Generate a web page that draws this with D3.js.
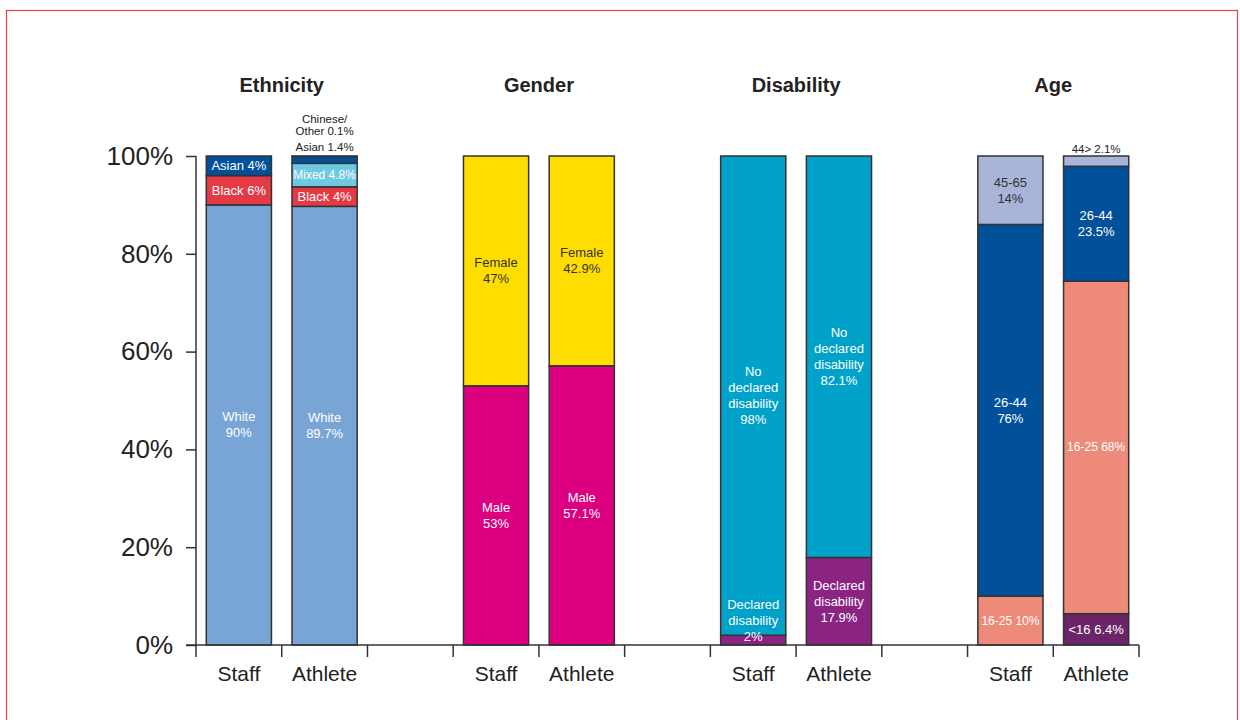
<!DOCTYPE html>
<html><head><meta charset="utf-8">
<script src="https://cdn.jsdelivr.net/npm/d3@7"></script>
<style>
html,body{margin:0;padding:0;background:#fff;}
svg{display:block;font-family:"Liberation Sans",Arial,Helvetica,sans-serif;}
</style></head>
<body><svg id="chart" width="1240" height="720"></svg>
<script>
// ---------- data ----------
const groups = ["Ethnicity", "Gender", "Disability", "Age"];
const barNames = ["Staff", "Athlete"];
const yTicks = [0, 20, 40, 60, 80, 100];

const ethnicityStaffCats = ["White", "Black", "Asian"];
const ethnicityStaffVals = [90, 6, 4];
const ethnicityAthleteCats = ["White", "Black", "Mixed", "Asian", "Chinese/Other"];
const ethnicityAthleteVals = [89.7, 4, 4.8, 1.4, 0.1];

const genderCats = ["Male", "Female"];
const genderStaffVals = [53, 47];
const genderAthleteVals = [57.1, 42.9];

const disabilityCats = ["Declared disability", "No declared disability"];
const disabilityStaffVals = [2, 98];
const disabilityAthleteVals = [17.9, 82.1];

const ageStaffCats = ["16-25", "26-44", "45-65"];
const ageStaffVals = [10, 76, 14];
const ageAthleteCats = ["<16", "16-25", "26-44", "44>"];
const ageAthleteVals = [6.4, 68, 23.5, 2.1];

// segment labels (text lines) per bar, same order as categories
const ethnicityStaffLabels = [["White", "90%"], ["Black 6%"], ["Asian 4%"]];
const ethnicityAthleteLabels = [["White", "89.7%"], ["Black 4%"], ["Mixed 4.8%"], ["Asian 1.4%"], ["Chinese/", "Other 0.1%"]];
const genderStaffLabels = [["Male", "53%"], ["Female", "47%"]];
const genderAthleteLabels = [["Male", "57.1%"], ["Female", "42.9%"]];
const disabilityStaffLabels = [["Declared", "disability", "2%"], ["No", "declared", "disability", "98%"]];
const disabilityAthleteLabels = [["Declared", "disability", "17.9%"], ["No", "declared", "disability", "82.1%"]];
const ageStaffLabels = [["16-25 10%"], ["26-44", "76%"], ["45-65", "14%"]];
const ageAthleteLabels = [["<16 6.4%"], ["16-25 68%"], ["26-44", "23.5%"], ["44> 2.1%"]];

// ---------- styles ----------
const colorMap = {
  "White": "#78a4d6", "Black": "#e43a46", "Asian": "#00519a", "Mixed": "#6fc9e1",
  "Chinese/Other": "#e8c46a", "Male": "#dc0080", "Female": "#ffdd00",
  "Declared disability": "#8b2383", "No declared disability": "#00a2c9",
  "<16": "#6b2468", "16-25": "#ee8a7a", "26-44": "#00519a", "45-65": "#a9b4d9", "44>": "#a9b4d9"
};
const darkText = new Set(["Female", "45-65", "44>"]);

const bars = [
  {slot: 0, cats: ethnicityStaffCats, vals: ethnicityStaffVals, labels: ethnicityStaffLabels},
  {slot: 1, cats: ethnicityAthleteCats, vals: ethnicityAthleteVals, labels: ethnicityAthleteLabels,
   outside: {"Asian": 147, "Chinese/Other": 119}},
  {slot: 3, cats: genderCats, vals: genderStaffVals, labels: genderStaffLabels},
  {slot: 4, cats: genderCats, vals: genderAthleteVals, labels: genderAthleteLabels},
  {slot: 6, cats: disabilityCats, vals: disabilityStaffVals, labels: disabilityStaffLabels, shift: {"Declared disability": -20}},
  {slot: 7, cats: disabilityCats, vals: disabilityAthleteVals, labels: disabilityAthleteLabels},
  {slot: 9, cats: ageStaffCats, vals: ageStaffVals, labels: ageStaffLabels},
  {slot: 10, cats: ageAthleteCats, vals: ageAthleteVals, labels: ageAthleteLabels, outside: {"44>": 149}}
];

// ---------- layout ----------
const svg = d3.select("#chart");
svg.append("rect").attr("x", 6.5).attr("y", 10.5).attr("width", 1231).attr("height", 760)
  .attr("fill", "none").attr("stroke", "#e8404a").attr("stroke-width", 1.2);

const x = d3.scaleBand().domain(d3.range(11)).range([196, 1139]).paddingInner(0.24).paddingOuter(0.12);
const y = d3.scaleLinear().domain([0, 100]).range([645, 156]);
const axisColor = "#333";

// bars
bars.forEach(b => {
  let acc = 0;
  const segs = b.vals.map((v, i) => {
    const s = {cat: b.cats[i], v0: acc, v1: acc + v, lines: b.labels[i]};
    acc += v; return s;
  });
  const g = svg.append("g");
  g.selectAll("rect").data(segs).join("rect")
    .attr("x", x(b.slot)).attr("width", x.bandwidth())
    .attr("y", d => y(d.v1)).attr("height", d => y(d.v0) - y(d.v1))
    .attr("fill", d => colorMap[d.cat])
    .attr("stroke", "#333").attr("stroke-width", 1.5);

  const cx = x(b.slot) + x.bandwidth() / 2;
  segs.forEach(s => {
    const out = b.outside && b.outside[s.cat];
    if (out !== undefined) {
      s.lines.forEach((ln, j) => {
        svg.append("text").attr("x", cx).attr("y", out + j * 12)
          .attr("text-anchor", "middle").attr("dominant-baseline", "central")
          .attr("font-size", 11.5).attr("fill", "#222").text(ln);
      });
      return;
    }
    const lh = 16;
    const c = (y(s.v0) + y(s.v1)) / 2 + ((b.shift && b.shift[s.cat]) || 0);
    const n = s.lines.length;
    const small = s.lines[0].length > 8 && n === 1;
    s.lines.forEach((ln, j) => {
      svg.append("text").attr("x", cx).attr("y", c + (j - (n - 1) / 2) * lh)
        .attr("text-anchor", "middle").attr("dominant-baseline", "central")
        .attr("font-size", small ? 12 : 13)
        .attr("fill", darkText.has(s.cat) ? "#333" : "#fff").text(ln);
    });
  });
});

// y axis
const yAxis = svg.append("g").attr("transform", "translate(196,0)")
  .call(d3.axisLeft(y).tickValues(yTicks).tickFormat(d => d + "%").tickSize(10).tickPadding(13));
yAxis.select(".domain").attr("stroke", axisColor).attr("stroke-width", 1.5).attr("d", "M0,156V645");
yAxis.selectAll(".tick line").attr("stroke", axisColor).attr("stroke-width", 1.5);
yAxis.selectAll(".tick text").attr("font-size", 26).attr("fill", "#222")
  .attr("font-family", "Liberation Sans, Arial, sans-serif");

// x axis baseline + boundary ticks
const step = x.step();
const x0 = x.range()[0];
const boundaries = d3.range(12).map(i => x0 + i * step);
svg.append("line").attr("x1", 186).attr("x2", boundaries[11]).attr("y1", 645).attr("y2", 645)
  .attr("stroke", axisColor).attr("stroke-width", 1.5);
svg.selectAll(".bt").data(boundaries).join("line").attr("class", "bt")
  .attr("x1", d => d).attr("x2", d => d).attr("y1", 645).attr("y2", 657)
  .attr("stroke", axisColor).attr("stroke-width", 1.5);

// category labels
bars.forEach((b, i) => {
  svg.append("text").attr("x", x(b.slot) + x.bandwidth() / 2).attr("y", 673)
    .attr("text-anchor", "middle").attr("dominant-baseline", "central")
    .attr("font-size", 21).attr("fill", "#222").text(barNames[i % 2]);
});

// group titles
groups.forEach((gname, i) => {
  const a = x(i * 3), bb = x(i * 3 + 1);
  svg.append("text").attr("x", (a + bb + x.bandwidth()) / 2).attr("y", 85)
    .attr("text-anchor", "middle").attr("dominant-baseline", "central")
    .attr("font-size", 20).attr("font-weight", "bold").attr("fill", "#222").text(gname);
});
</script>
</body></html>
